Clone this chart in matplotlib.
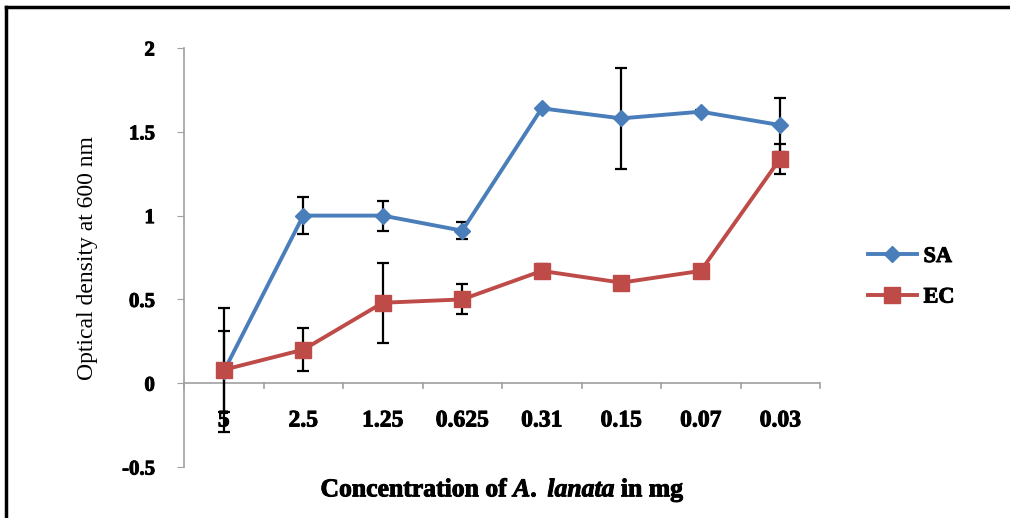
import numpy as np
import matplotlib.pyplot as plt
import matplotlib.patheffects as pe
from matplotlib.lines import Line2D

plt.rcParams['font.family'] = ['Liberation Serif', 'DejaVu Serif']
plt.rcParams['mathtext.fontset'] = 'custom'
plt.rcParams['mathtext.it'] = 'Liberation Serif:italic:bold'
plt.rcParams['mathtext.rm'] = 'Liberation Serif:bold'

# data
concentrations = ['5', '2.5', '1.25', '0.625', '0.31', '0.15', '0.07', '0.03']
sa_values = [0.07, 1.00, 1.00, 0.91, 1.64, 1.58, 1.62, 1.54]
sa_errors = [0.24, 0.11, 0.09, 0.05, 0.01, 0.30, 0.01, 0.16]
ec_values = [0.08, 0.20, 0.48, 0.50, 0.67, 0.60, 0.67, 1.34]
ec_errors = [0.37, 0.13, 0.24, 0.09, 0.04, 0.00, 0.00, 0.09]

sa_color = '#4A7EBB'
ec_color = '#BE4B48'
axis_gray = '#A0A0A0'
heavy = [pe.withStroke(linewidth=0.7, foreground='black')]

fig = plt.figure(figsize=(10.1, 5.18), dpi=100)
ax = fig.add_axes([184 / 1010, 1 - 467 / 518, 636 / 1010, 419 / 518])

x = np.arange(len(concentrations))

# error bars behind the lines
ax.errorbar(x, sa_values, yerr=sa_errors, fmt='none', ecolor='black',
            elinewidth=1.6, capsize=4, capthick=1.6, zorder=2)
ax.errorbar(x, ec_values, yerr=ec_errors, fmt='none', ecolor='black',
            elinewidth=1.6, capsize=4, capthick=1.6, zorder=2)

ax.plot(x, sa_values, color=sa_color, lw=2.8, marker='D', ms=8, zorder=3, label='SA')
ax.plot(x, ec_values, color=ec_color, lw=2.8, marker='s', ms=11, zorder=4, label='EC')

ax.set_xlim(-0.5, len(concentrations) - 0.5)
ax.set_ylim(-0.5, 2)
ax.set_yticks([-0.5, 0, 0.5, 1, 1.5, 2])
ax.set_yticklabels(['-0.5', '0', '0.5', '1', '1.5', '2'], fontsize=15, fontweight='bold')
for t in ax.get_yticklabels():
    t.set_path_effects(heavy)
ax.tick_params(axis='y', direction='out', length=5, color=axis_gray, pad=16)

for side in ['top', 'right', 'bottom']:
    ax.spines[side].set_visible(False)
ax.spines['left'].set_color(axis_gray)
ax.spines['left'].set_linewidth(1.2)

# category axis at y = 0 with ticks between categories
ax.axhline(0, color=axis_gray, lw=1.2, zorder=1)
ax.set_xticks([])
for b in np.arange(-0.5, len(concentrations), 1.0):
    ax.plot([b, b], [0, -0.03], color=axis_gray, lw=1.2, zorder=1, clip_on=False)
for i, lab in enumerate(concentrations):
    ax.text(i, -0.225, lab, ha='center', va='center', fontsize=17, fontweight='bold',
            path_effects=heavy)

fig.text(88 / 1010, 1 - 258 / 518, 'Optical density at 600 nm', rotation=90,
         ha='center', va='center', fontsize=17)
fig.text(503 / 1010, 1 - 490 / 518, r'Concentration of $A.\ lanata$ in mg',
         ha='center', va='center', fontsize=18.5, fontweight='bold', path_effects=heavy)

handles = [Line2D([], [], color=sa_color, lw=2.8, marker='D', ms=8),
           Line2D([], [], color=ec_color, lw=2.8, marker='s', ms=11)]
leg = fig.legend(handles, ['SA', 'EC'], loc='center left',
                 bbox_to_anchor=(848 / 1010, 1 - 277 / 518),
                 frameon=False, prop={'weight': 'bold', 'size': 16}, handlelength=2.2,
                 handletextpad=0.3, labelspacing=0.9)
for t in leg.get_texts():
    t.set_path_effects(heavy)

# outer frame: top and left edges only
fig.add_artist(Line2D([6 / 1010, 1], [1 - 7 / 518, 1 - 7 / 518], color='black', lw=2.5,
                      transform=fig.transFigure))
fig.add_artist(Line2D([6 / 1010, 6 / 1010], [0, 1 - 7 / 518], color='black', lw=2.5,
                      transform=fig.transFigure))

fig.savefig('out.png', dpi=100)
